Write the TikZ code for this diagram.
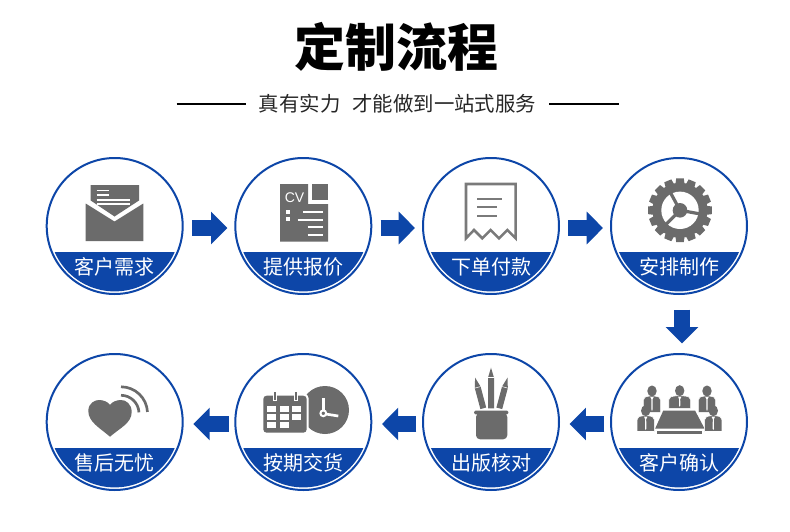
\documentclass[tikz,border=0pt]{standalone}
\usepackage{fontspec}
\setmainfont{Noto Sans CJK SC}
\newfontfamily\cvfont{Liberation Sans}
\usetikzlibrary{arrows.meta}
\definecolor{brandblue}{HTML}{0D46A8}
\definecolor{icongray}{HTML}{6B6B6B}
\tikzset{
  x=0.75pt,y=-0.75pt,
  stepring/.style={circle,draw=brandblue,line width=1.5pt,fill=white,minimum size=102pt,inner sep=0pt,outer sep=0pt},
  steplabel/.style={text=white,font=\fontsize{15}{15}\selectfont,text height=13.2pt,text depth=1.8pt,inner sep=0pt},
  flow/.style={draw=brandblue,line width=11.9pt,-{Triangle[length=12.2pt,width=23.8pt]}},
  calcell/.style={fill=white},
}
\newcommand{\stepcircle}[4]{%
  \node[stepring] (#1) at (#2,#3) {};
  \begin{scope}
    \clip (#2,#3) circle[radius=65.4];
    \fill[brandblue] ({#2-70},{#3+25.7}) rectangle ({#2+70},{#3+70});
  \end{scope}
  \node[steplabel] (#1label) at (#2,{#3+41}) {#4};
}
\newcommand{\person}[4]{% cx, head y, half width, bottom
  \filldraw[icongray,draw=white,line width=0.4pt]
    ({#1-#3},#4) -- ({#1-#3},{#2+9}) .. controls ({#1-#3},{#2+6.5}) and ({#1-#3+2},{#2+5.5}) .. ({#1-2},{#2+5})
    -- ({#1+2},{#2+5}) .. controls ({#1+#3-2},{#2+5.5}) and ({#1+#3},{#2+6.5}) .. ({#1+#3},{#2+9}) -- ({#1+#3},#4) -- cycle;
  \fill[white] ({#1-1.7},{#2+6}) -- ({#1+1.7},{#2+6}) -- ({#1+0.5},{#2+8.5}) -- ({#1+0.7},{#4-3}) -- (#1,{#4-1.5}) -- ({#1-0.7},{#4-3}) -- ({#1-0.5},{#2+8.5}) -- cycle;
  \fill[icongray] (#1,#2) ellipse[x radius=4.7,y radius=5.5];
}
\newcommand{\penicon}[4]{% base x, base y, angle, length
  \begin{scope}[shift={(#1,#2)},rotate=#3]
    \fill[icongray] (-3,0) -- (-3,{-(#4-10)}) -- (0,{-#4}) -- (3,{-(#4-10)}) -- (3,0) -- cycle;
    \draw[white,line width=0.4pt] (-3,{-(#4-10)}) -- (3,{-(#4-10)});
  \end{scope}
}
\begin{document}
\begin{tikzpicture}
\useasboundingbox (0,0) rectangle (790,532);
\fill[white] (0,0) rectangle (790,532);

% heading
\node[font=\fontsize{38.2}{39}\bfseries\selectfont,text=black,inner sep=0pt,text height=33.6pt,text depth=4.6pt] (title) at (396.5,47.5) {定制流程};
\node[font=\fontsize{15.3}{15}\selectfont,text=black!85,inner sep=0pt,text height=13.4pt,text depth=1.9pt] (subtitle) at (397.5,103.5) {真有实力\hspace{9pt}才能做到一站式服务};
\coordinate (ruleLa) at (176.5,104); \coordinate (ruleLb) at (246,104);
\coordinate (ruleRa) at (549,104); \coordinate (ruleRb) at (619,104);
\draw[black,line width=1.5pt] (ruleLa) -- (ruleLb);
\draw[black,line width=1.5pt] (ruleRa) -- (ruleRb);

% steps
\stepcircle{s1}{114.7}{226}{客户需求}
\stepcircle{s2}{303.3}{226}{提供报价}
\stepcircle{s3}{491}{226}{下单付款}
\stepcircle{s4}{679}{226}{安排制作}
\stepcircle{s5}{679}{422}{客户确认}
\stepcircle{s6}{491}{422}{出版核对}
\stepcircle{s7}{303.3}{422}{按期交货}
\stepcircle{s8}{114.7}{422}{售后无忧}

% connectors
\draw[flow,shorten <=7pt,shorten >=6pt] ([yshift=-1.5pt]s1.east) -- ([yshift=-1.5pt]s2.west);
\draw[flow,shorten <=7pt,shorten >=6pt] ([yshift=-1.5pt]s2.east) -- ([yshift=-1.5pt]s3.west);
\draw[flow,shorten <=7pt,shorten >=6pt] ([yshift=-1.5pt]s3.east) -- ([yshift=-1.5pt]s4.west);
\draw[flow,shorten <=11.7pt,shorten >=8pt] ([xshift=2.25pt]s4.south) -- ([xshift=2.25pt]s5.north);
\draw[flow,shorten <=5pt,shorten >=8pt] ([yshift=-1.5pt]s5.west) -- ([yshift=-1.5pt]s6.east);
\draw[flow,shorten <=5pt,shorten >=8pt] ([yshift=-1.5pt]s6.west) -- ([yshift=-1.5pt]s7.east);
\draw[flow,shorten <=5pt,shorten >=8pt] ([yshift=-1.5pt]s7.west) -- ([yshift=-1.5pt]s8.east);

% icon 1: envelope
\fill[icongray] (90.7,185) -- (139,185) -- (139,200.5) -- (114.5,216.5) -- (90.7,200.5) -- cycle;
\fill[icongray] (85.7,203.5) -- (114.5,221.5) -- (143.3,203.5) -- (143.3,241) -- (85.7,241) -- cycle;
\foreach \yy/\xx in {190.7/109,195/109,200/130,204/130}
  \draw[white,line width=1pt] (96.7,\yy) -- (\xx,\yy);

% icon 2: document
\fill[icongray] (280,184) -- (308,184) -- (308,204) -- (328,204) -- (328,241.7) -- (280,241.7) -- cycle;
\fill[icongray] (312,184) rectangle (328,200);
\node[text=white,font=\cvfont\fontsize{10.5}{10}\selectfont,inner sep=0pt] (cv) at (294.5,197.7) {CV};
\fill[white] (286,209.7) rectangle (290,213.7);
\fill[white] (286,217.3) rectangle (290,221.3);
\foreach \yy/\xx in {211.7/303.3,219.7/297.7,227.3/307.7,234.7/307.7}
  \draw[white,line width=1.5pt] (\xx,\yy) -- (323.3,\yy);

% icon 3: receipt
\draw[draw=icongray!90!white,line width=1.9pt,line join=miter]
  (466,238.3) -- (466,184) -- (515.7,184) -- (515.7,238.3) -- (507.3,230) -- (499,238.3) -- (490.7,230) -- (482.3,238.3) -- (474,230) -- cycle;
\foreach \yy/\xx in {199/501.7,207.3/496.7,216/496.7}
  \draw[icongray!90!white,line width=1.5pt] (477.3,\yy) -- (\xx,\yy);

% icon 4: gear
\fill[icongray] (680,210.3) circle[radius=27.5];
\foreach \a in {0,22.5,...,337.5}
  \fill[icongray,rotate around={\a:(680,210.3)}] (676.2,178.4) -- (683.8,178.4) -- (684.8,186) -- (675.2,186) -- cycle;
\fill[white] (680,210.3) circle[radius=18.7];
\draw[icongray,line width=2.4pt] (680,210.3) -- (670.5,192.7);
\draw[icongray,line width=2.4pt] (680,210.3) -- (699.5,213.8);
\draw[icongray,line width=2.4pt] (680,210.3) -- (666,224.3);
\fill[icongray] (680,210.3) circle[radius=7.3];

% icon 5: meeting
\person{652}{391}{8.6}{412.3}
\person{707}{391}{8.6}{412.3}
\person{679.7}{390.7}{10.9}{408.3}
\fill[icongray] (663.3,410.5) -- (695,410.5) -- (704.5,428.5) -- (655.2,428.5) -- cycle;
\fill[icongray] (657.3,430.5) rectangle (702.3,433.5);
\person{645.7}{410.7}{8.6}{431.5}
\person{713.3}{410.7}{8.6}{431.5}

% icon 6: pens
\penicon{491}{408.3}{0}{40.6}
\penicon{483.3}{408.3}{15}{31.7}
\penicon{499.3}{408.3}{-15}{31.7}
\fill[icongray,rounded corners=1pt] (474,410.7) rectangle (508.3,414.3);
\fill[icongray,rounded corners=3pt] (476,413) -- (476,439.3) -- (507.3,439.3) -- (507.3,413) -- cycle;

% icon 7: calendar and clock
\fill[icongray] (325,410) circle[radius=24];
\fill[white,rounded corners=3pt] (261.5,394) rectangle (308.5,434.5);
\fill[icongray,rounded corners=2.5pt] (263.3,395.7) rectangle (306.7,432.7);
\foreach \xx in {275,295.7}{
  \draw[white,line width=3pt] (\xx,391) -- (\xx,401);
  \draw[icongray,line width=1.5pt] (\xx,392) -- (\xx,400);
}
\foreach \xx/\yy in {267.3/406,280/406,292.3/406,267.3/414.3,280/414.3,292.3/414.3,267.3/422.3,280/422.3}
  \fill[calcell] (\xx,\yy) rectangle ({\xx+8.5},{\yy+5.6});
\draw[white,line width=2pt] (323.3,398.3) -- (323.3,411);
\draw[white,line width=2pt] (325.5,414) -- (338.3,416);
\draw[white,line width=1.5pt,fill=icongray] (323.3,413.3) circle[radius=2.9];

% icon 8: heart
\fill[icongray] (110,436.7) .. controls (100,428) and (88.3,422) .. (88.3,411)
  .. controls (88.3,403) and (95,400) .. (99,400)
  .. controls (104,400) and (108,402) .. (110,405)
  .. controls (112,402) and (116,400) .. (121,400)
  .. controls (126,400) and (131.7,404) .. (131.7,412)
  .. controls (131.7,423) and (120,428) .. (110,436.7) -- cycle;
\draw[icongray,line width=2pt] (121,386.8) arc[start angle=-90,end angle=-3,radius=26.5];
\draw[icongray,line width=2pt] (121,395.3) arc[start angle=-90,end angle=-3,radius=18];
\end{tikzpicture}
\end{document}
